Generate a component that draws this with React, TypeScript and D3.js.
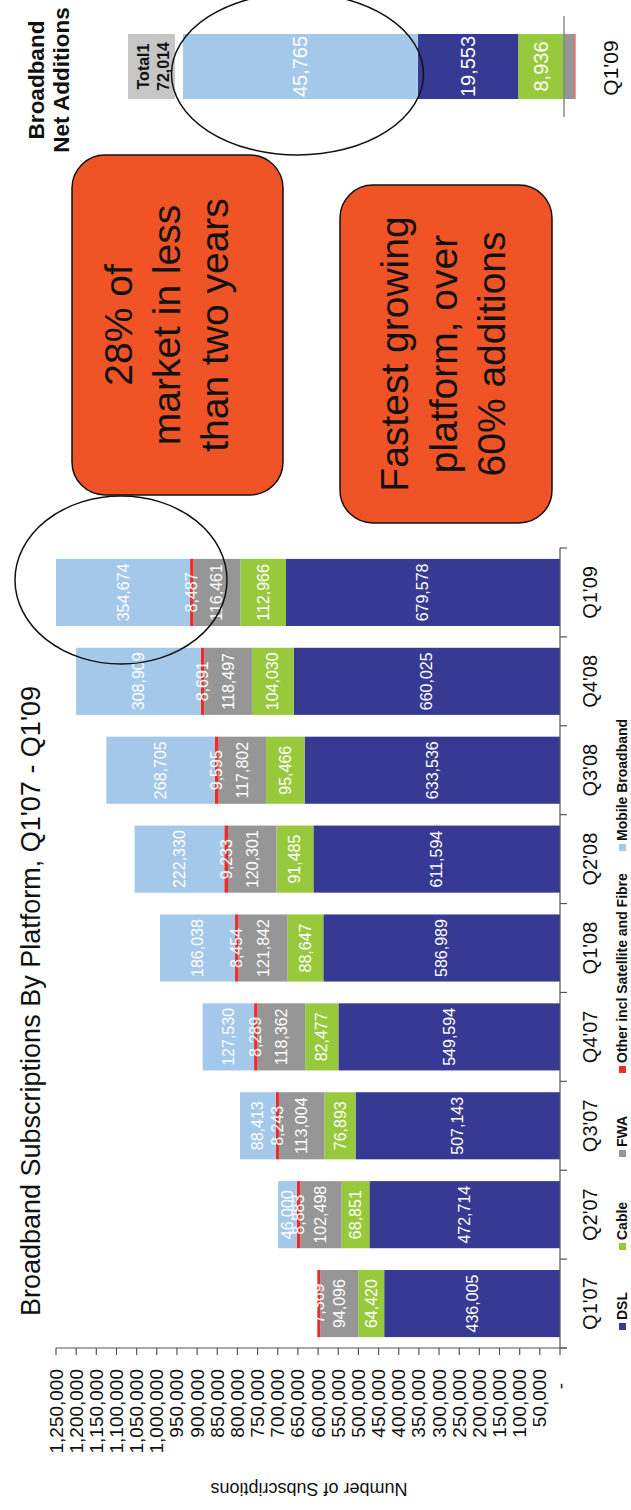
import React from "react";
import * as d3 from "d3";

// Quarterly broadband subscriptions by platform
const quarters = ["Q1'07", "Q2'07", "Q3'07", "Q4'07", "Q1'08", "Q2'08", "Q3'08", "Q4'08", "Q1'09"];
const dsl = [436005, 472714, 507143, 549594, 586989, 611594, 633536, 660025, 679578];
const cable = [64420, 68851, 76893, 82477, 88647, 91485, 95466, 104030, 112966];
const fwa = [94096, 102498, 113004, 118362, 121842, 120301, 117802, 118497, 116461];
const other = [7369, 8883, 8243, 8289, 8454, 9233, 9595, 8691, 8487];
const mobile = [0, 46000, 88413, 127530, 186038, 222330, 268705, 308909, 354674];

const seriesKeys = ["DSL", "Cable", "FWA", "Other", "Mobile"];
const seriesNames = ["DSL", "Cable", "FWA", "Other incl Satellite and Fibre", "Mobile Broadband"];
const seriesColors = ["#363a93", "#98c93c", "#969696", "#ee2b2b", "#a3c8ea"];

const valueTicks = [
  0, 50000, 100000, 150000, 200000, 250000, 300000, 350000, 400000, 450000, 500000,
  550000, 600000, 650000, 700000, 750000, 800000, 850000, 900000, 950000, 1000000,
  1050000, 1100000, 1150000, 1200000, 1250000,
];

// Net additions in Q1'09
const netCategories = ["Q1'09"];
const netSeries = ["Cable", "FWA", "Other", "DSL", "Mobile"];
const netAdditions = [8936, -2036, -204, 19553, 45765];

const W = 631;
const H = 1510;
const FONT = "'Liberation Sans', Arial, Helvetica, sans-serif";

const colorOf = (k: string) => seriesColors[seriesKeys.indexOf(k)];
const fmt = d3.format(",");

// text that reads bottom-to-top
function VText(props: any) {
  const { x, y, children, ...rest } = props;
  return (
    <text transform={`translate(${x},${y}) rotate(-90)`} {...rest}>
      {children}
    </text>
  );
}

export default function App() {
  // ---- main stacked bar chart (bars grow leftwards, categories bottom to top)
  const xV = d3.scaleLinear().domain([0, 1250000]).range([560, 56]);
  const yC = d3
    .scaleBand<string>()
    .domain(quarters)
    .range([1348, 548])
    .paddingInner(0.245)
    .paddingOuter(0.1225);

  const rows = quarters.map((q, i) => ({
    q,
    DSL: dsl[i],
    Cable: cable[i],
    FWA: fwa[i],
    Other: other[i],
    Mobile: mobile[i],
  }));
  const stacked = d3.stack<any>().keys(seriesKeys)(rows);

  // ---- net additions bar
  const xN = d3.scaleLinear().domain([0, 80000]).range([564, 564 - 410.5]);
  const yN = d3
    .scaleBand<string>()
    .domain(netCategories)
    .range([16, 117])
    .paddingInner(0.356)
    .paddingOuter(0.178);
  const netRow: any = { q: netCategories[0] };
  netSeries.forEach((k, i) => (netRow[k] = netAdditions[i]));
  const netStacked = d3.stack<any>().keys(netSeries).offset(d3.stackOffsetDiverging)([netRow]);
  const netTotal = d3.sum(netAdditions);
  const netTop = xN(d3.sum(netAdditions.filter((v) => v > 0)));

  const bandStep = yC.step();
  const legendBottoms = [1330, 1250, 1157, 1073, 851];

  return (
    <svg
      width={W}
      height={H}
      style={{ position: "absolute", left: 0, top: 0, background: "#fff" }}
      fontFamily={FONT}
    >
      <defs>
        <clipPath id="plotClip">
          <rect x={56} y={540} width={510} height={820} />
        </clipPath>
      </defs>
      <rect x={0} y={0} width={W} height={H} fill="#fff" />

      {/* main bars */}
      <g clipPath="url(#plotClip)">
        {stacked.map((s) =>
          s.map((d, i) => {
            const x0 = xV(d[1]);
            const x1 = xV(d[0]);
            if (x1 - x0 <= 0) return null;
            return (
              <rect
                key={s.key + i}
                x={x0}
                y={yC(quarters[i])}
                width={x1 - x0}
                height={yC.bandwidth()}
                fill={colorOf(s.key)}
              />
            );
          })
        )}
      </g>

      {/* segment value labels */}
      {stacked.map((s) =>
        s.map((d, i) => {
          const v = d[1] - d[0];
          if (v <= 0) return null;
          const x0 = Math.max(xV(d[1]), 56);
          const x1 = xV(d[0]);
          return (
            <VText
              key={"l" + s.key + i}
              x={(x0 + x1) / 2}
              y={(yC(quarters[i]) as number) + yC.bandwidth() / 2}
              textAnchor="middle"
              dominantBaseline="central"
              fill="#fff"
              fontSize={16}
            >
              {fmt(v)}
            </VText>
          );
        })
      )}

      {/* category axis */}
      <line x1={560} x2={560} y1={548} y2={1348} stroke="#555" strokeWidth={1.2} />
      {quarters.map((q, i) => (
        <line
          key={"ct" + i}
          x1={560}
          x2={567}
          y1={(yC(q) as number) + yC.bandwidth() + (bandStep - yC.bandwidth()) / 2}
          y2={(yC(q) as number) + yC.bandwidth() + (bandStep - yC.bandwidth()) / 2}
          stroke="#555"
          strokeWidth={1.2}
        />
      ))}
      <line x1={560} x2={567} y1={548} y2={548} stroke="#555" strokeWidth={1.2} />
      {quarters.map((q) => (
        <VText
          key={"cl" + q}
          x={597}
          y={(yC(q) as number) + yC.bandwidth() / 2}
          textAnchor="middle"
          fontSize={20}
          fill="#111"
        >
          {q}
        </VText>
      ))}

      {/* value axis */}
      <line x1={56} x2={567} y1={1348} y2={1348} stroke="#555" strokeWidth={1.2} />
      {valueTicks.map((v) => (
        <line key={"vt" + v} x1={xV(v)} x2={xV(v)} y1={1348} y2={1355} stroke="#555" strokeWidth={1.2} />
      ))}
      {valueTicks.map((v) =>
        v === 0 ? (
          <VText key={"vl" + v} x={xV(v)} y={1386} textAnchor="middle" dominantBaseline="central" fontSize={19} fill="#111">
            -
          </VText>
        ) : (
          <VText key={"vl" + v} x={xV(v)} y={1369} textAnchor="end" dominantBaseline="central" fontSize={19} fill="#111">
            {fmt(v)}
          </VText>
        )
      )}
      <text
        transform="translate(309,1483) rotate(180)"
        textAnchor="middle"
        fontSize={18}
        fill="#111"
      >
        Number of Subscriptions
      </text>

      {/* legend */}
      {seriesKeys.map((k, i) => (
        <g key={"lg" + k}>
          <rect x={619} y={legendBottoms[i] - 7} width={7} height={7} fill={seriesColors[i]} />
          <VText x={627} y={legendBottoms[i] - 10} fontSize={14} fontWeight="bold" fill="#111">
            {seriesNames[i]}
          </VText>
        </g>
      ))}

      {/* chart title */}
      <VText x={40} y={1001} textAnchor="middle" fontSize={27} fill="#111">
        Broadband Subscriptions By Platform, Q1'07 - Q1'09
      </VText>

      {/* net additions bar */}
      {netStacked.map((s) =>
        s.map((d, i) => {
          const a = xN(d[0]);
          const b = xN(d[1]);
          const x0 = Math.min(a, b);
          const w = Math.abs(b - a);
          const v = d[1] - d[0];
          return (
            <g key={"n" + s.key + i}>
              <rect x={x0} y={yN(netCategories[i])} width={w} height={yN.bandwidth()} fill={colorOf(s.key)} />
              {w > 25 && (
                <VText
                  x={x0 + w / 2}
                  y={(yN(netCategories[i]) as number) + yN.bandwidth() / 2}
                  textAnchor="middle"
                  dominantBaseline="central"
                  fill="#fff"
                  fontSize={20}
                >
                  {fmt(v)}
                </VText>
              )}
            </g>
          );
        })
      )}
      <line x1={564} x2={564} y1={16} y2={117} stroke="#888" strokeWidth={1.5} />
      {/* total label */}
      <rect x={netTop - 55} y={yN(netCategories[0])} width={47} height={yN.bandwidth()} fill="#c6c6c6" />
      <VText
        x={netTop - 34}
        y={(yN(netCategories[0]) as number) + yN.bandwidth() / 2}
        textAnchor="middle"
        fontSize={16}
        fontWeight="bold"
        fill="#111"
      >
        Total1
      </VText>
      <VText
        x={netTop - 14}
        y={(yN(netCategories[0]) as number) + yN.bandwidth() / 2}
        textAnchor="middle"
        fontSize={16}
        fontWeight="bold"
        fill="#111"
      >
        {fmt(netTotal)}
      </VText>
      <VText x={618} y={68} textAnchor="middle" fontSize={21} fill="#111">
        {netCategories[0]}
      </VText>
      <VText x={44} y={80} textAnchor="middle" fontSize={22.5} fontWeight="bold" fill="#111">
        Broadband
      </VText>
      <VText x={69} y={80} textAnchor="middle" fontSize={22.5} fontWeight="bold" fill="#111">
        Net Additions
      </VText>

      {/* call-out boxes */}
      <rect x={72} y={155} width={211} height={340} rx={33} fill="#f05426" stroke="#111" strokeWidth={1.5} />
      {["28% of", "market in less", "than two years"].map((t, i) => (
        <VText key={"b1" + i} x={132 + i * 48} y={325} textAnchor="middle" fontSize={39} fill="#111">
          {t}
        </VText>
      ))}
      <rect x={340} y={185} width={212} height={338} rx={33} fill="#f05426" stroke="#111" strokeWidth={1.5} />
      {["Fastest growing", "platform, over", "60% additions"].map((t, i) => (
        <VText key={"b2" + i} x={408 + i * 48.5} y={354} textAnchor="middle" fontSize={39} fill="#111">
          {t}
        </VText>
      ))}

      {/* highlight ellipses */}
      <ellipse cx={297.5} cy={74} rx={126} ry={81} fill="none" stroke="#111" strokeWidth={1.5} />
      <ellipse cx={121} cy={580} rx={106} ry={84} fill="none" stroke="#111" strokeWidth={1.5} />
    </svg>
  );
}
